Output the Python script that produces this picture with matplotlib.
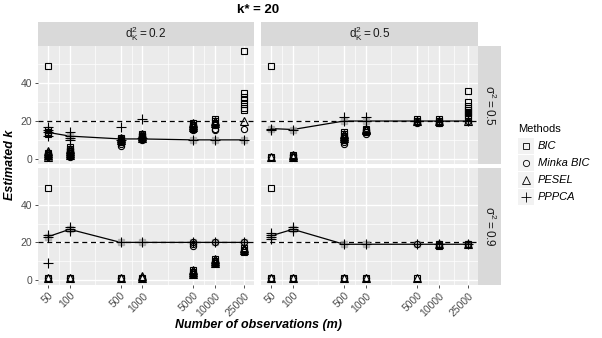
import matplotlib
matplotlib.use("Agg")
import matplotlib.pyplot as plt
from matplotlib.lines import Line2D
from matplotlib.patches import Rectangle
import numpy as np

plt.rcParams['font.family'] = ['Liberation Sans', 'DejaVu Sans']
plt.rcParams['mathtext.fontset'] = 'custom'
plt.rcParams['mathtext.rm'] = 'Liberation Sans'
plt.rcParams['mathtext.it'] = 'Liberation Sans:italic'

# observations on the x axis
m_obs = [50, 100, 500, 1000, 5000, 10000, 25000]
m_labels = ['50', '100', '500', '1000', '5000', '10000', '25000']
k_true = 20

# d_K^2 = 0.2, sigma^2 = 0.5
bic_a = [[49, 15, 14, 13, 3, 2], [6, 5, 4, 3, 2], [11, 10, 9], [13, 12, 11], [19, 18, 17, 16], [21, 20, 19], [57, 35, 33, 31, 29, 27, 26]]
minka_a = [[1, 2, 3], [1, 2, 3, 4, 5], [7, 8, 9, 10, 11], [10, 11, 12, 13], [15, 16, 17, 18], [15, 16, 18], [16]]
pesel_a = [[1, 2, 3, 4], [2, 3, 4, 5], [10, 11], [11, 12, 13], [17, 18, 19], [19, 20], [20]]
pppca_a = [[12, 14, 15, 17], [14, 12, 11, 10], [10, 17], [11, 21], [10], [10], [10]]
line_a = [14, 12, 10.5, 10.5, 10, 10, 10]

# d_K^2 = 0.5, sigma^2 = 0.5
bic_b = [[49, 1], [1, 2], [10, 11, 12, 13, 14], [14, 15, 16], [20, 21], [19, 20, 21], [36, 30, 28, 27, 26, 25, 24, 23, 22]]
minka_b = [[1], [1, 2], [8, 9, 10, 11], [13, 14, 15], [19, 20], [19, 20], [20]]
pesel_b = [[1], [1, 2], [11, 12, 13], [15, 16], [20], [20], [20]]
pppca_b = [[16, 15.5], [15], [20, 22], [20, 22], [20], [20], [20]]
line_b = [16, 15.5, 20, 20, 20, 20, 20]

# d_K^2 = 0.2, sigma^2 = 0.9
bic_c = [[49, 1], [1], [1], [1], [3, 4, 5], [9, 10, 11], [15, 16, 17]]
minka_c = [[1], [1], [1], [1], [18, 19, 20], [20], [20]]
pesel_c = [[1], [1], [1], [1, 2], [3, 4, 5], [9, 10, 11], [16, 17]]
pppca_c = [[23, 24, 9], [26, 28, 27], [20], [20], [20], [20], [20]]
line_c = [23, 27, 20, 20, 20, 20, 20]

# d_K^2 = 0.5, sigma^2 = 0.9
bic_d = [[49, 1], [1], [1], [1], [1], [18, 19], [19]]
minka_d = [[1], [1], [1], [1], [19], [19], [19]]
pesel_d = [[1], [1], [1], [1], [1], [19], [19]]
pppca_d = [[22, 23, 24, 25], [26, 27, 28], [19], [19], [19], [19], [19]]
line_d = [23.5, 27, 19, 19, 19, 19, 19]

methods = ['BIC', 'Minka BIC', 'PESEL', 'PPPCA']
shapes = ['s', 'o', '^', '+']
sizes = [4.5, 4.5, 6, 7]

W, H = 602, 338
fig = plt.figure(figsize=(W / 100, H / 100), dpi=100)


def px_axes(x0, y0, x1, y1):
    return fig.add_axes([x0 / W, 1 - y1 / H, (x1 - x0) / W, (y1 - y0) / H])


def draw_panel(ax, series, line, bottom, left):
    ax.set_facecolor('#EBEBEB')
    ax.set_xscale('log')
    ax.set_xlim(10 ** 1.564, 10 ** 4.533)
    ax.set_ylim(-2.8, 59.8)
    lm = np.log10(m_obs)
    minors = 10 ** ((lm[:-1] + lm[1:]) / 2)
    ax.set_xticks(m_obs)
    ax.set_xticks(minors, minor=True)
    ax.set_yticks([0, 20, 40])
    ax.set_yticks([10, 30, 50], minor=True)
    ax.grid(which='major', color='white', lw=1.0)
    ax.grid(which='minor', color='white', lw=0.5)
    ax.set_axisbelow(True)
    for s in ax.spines.values():
        s.set_visible(False)
    ax.tick_params(which='minor', length=0)
    ax.tick_params(which='major', length=2.5, width=0.6, color='#333333',
                   labelsize=7.5, labelcolor='#4D4D4D', pad=1.5)
    if bottom:
        ax.set_xticklabels(m_labels, rotation=45, ha='right', rotation_mode='anchor')
    else:
        ax.tick_params(axis='x', length=0, labelbottom=False)
    if not left:
        ax.tick_params(axis='y', length=0, labelleft=False)
    ax.axhline(k_true, color='black', lw=0.9, ls=(0, (4, 3)), zorder=2)
    ax.plot(m_obs, line, color='black', lw=0.9, zorder=3)
    ax.plot(m_obs, line, ls='none', marker='s', ms=4.5, color='#999999', alpha=0.6, zorder=3)
    for vals, mk, ms in zip(series, shapes, sizes):
        for xv, ys in zip(m_obs, vals):
            ax.plot([xv] * len(ys), ys, ls='none', marker=mk, ms=ms, mfc='none',
                    mec='black', mew=0.8, zorder=4)


cols = [(38, 254), (261, 478)]
rows = [(46, 164), (168, 285)]
panels = [
    ([bic_a, minka_a, pesel_a, pppca_a], line_a, 0, 0),
    ([bic_b, minka_b, pesel_b, pppca_b], line_b, 0, 1),
    ([bic_c, minka_c, pesel_c, pppca_c], line_c, 1, 0),
    ([bic_d, minka_d, pesel_d, pppca_d], line_d, 1, 1),
]
for series, line, r, c in panels:
    ax = px_axes(cols[c][0], rows[r][0], cols[c][1], rows[r][1])
    draw_panel(ax, series, line, bottom=(r == 1), left=(c == 0))

# strips
strip_top = [r'$\mathregular{d_K^2 = 0.2}$', r'$\mathregular{d_K^2 = 0.5}$']
strip_right = [r'$\mathregular{\sigma^2 = 0.5}$', r'$\mathregular{\sigma^2 = 0.9}$']
for (x0, x1), lab in zip(cols, strip_top):
    sax = px_axes(x0, 22, x1, 46)
    sax.set_facecolor('#D9D9D9')
    sax.set_xticks([]); sax.set_yticks([])
    for s in sax.spines.values():
        s.set_visible(False)
    sax.text(0.5, 0.5, lab, ha='center', va='center', fontsize=8.5, color='#1A1A1A',
             transform=sax.transAxes)
for (y0, y1), lab in zip(rows, strip_right):
    sax = px_axes(478, y0, 501, y1)
    sax.set_facecolor('#D9D9D9')
    sax.set_xticks([]); sax.set_yticks([])
    for s in sax.spines.values():
        s.set_visible(False)
    sax.text(0.5, 0.5, lab, ha='center', va='center', fontsize=8.5, color='#1A1A1A',
             rotation=-90, transform=sax.transAxes)

# titles
fig.text(258 / W, 1 - 10 / H, r'k* = 20', ha='center', va='center', fontsize=9.5,
         fontweight='bold')
fig.text(258 / W, 1 - 325 / H, 'Number of observations (m)', ha='center', va='center',
         fontsize=9, fontweight='bold', style='italic')
fig.text(10 / W, 1 - 165 / H, 'Estimated k', ha='center', va='center', rotation=90,
         fontsize=9, fontweight='bold', style='italic')

# legend
fig.text(518 / W, 1 - 129 / H, 'Methods', ha='left', va='center', fontsize=8)
for i, (name, mk, ms) in enumerate(zip(methods, shapes, sizes)):
    yc = 146 + 17 * i
    fig.add_artist(Rectangle((518 / W, 1 - (yc + 8) / H), 16 / W, 16 / H,
                             transform=fig.transFigure, facecolor='#F2F2F2',
                             edgecolor='none'))
    fig.add_artist(Line2D([526 / W], [1 - yc / H], transform=fig.transFigure,
                          marker=mk, ms=ms, mfc='none', mec='black', mew=0.6, ls='none'))
    fig.text(538 / W, 1 - yc / H, name, ha='left', va='center', fontsize=8, style='italic')

fig.savefig('out.png', dpi=100)
